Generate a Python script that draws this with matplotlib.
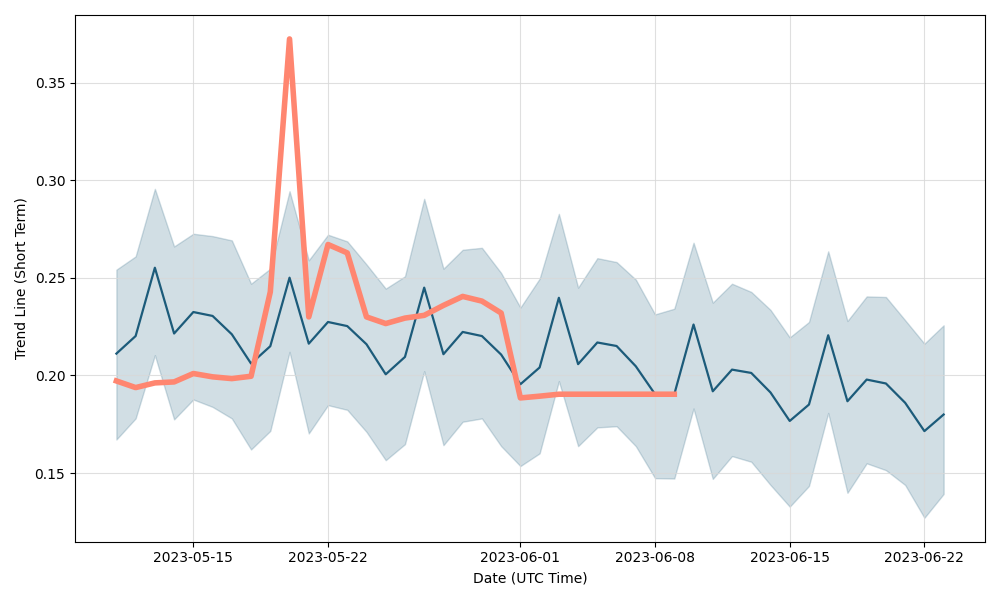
import matplotlib
matplotlib.use("Agg")
import matplotlib.pyplot as plt
import matplotlib.dates as mdates
import pandas as pd
import numpy as np

dates = pd.date_range("2023-05-11", "2023-06-23", freq="D")

trend = [0.2112, 0.2202, 0.2552, 0.2215, 0.2325, 0.2305, 0.2211, 0.2061, 0.2150, 0.2501,
         0.2163, 0.2274, 0.2253, 0.2160, 0.2006, 0.2095, 0.2450, 0.2109, 0.2223, 0.2202,
         0.2107, 0.1955, 0.2041, 0.2398, 0.2058, 0.2169, 0.2151, 0.2047, 0.1904, 0.1904,
         0.2261, 0.1919, 0.2030, 0.2013, 0.1913, 0.1767, 0.1851, 0.2206, 0.1868, 0.1979,
         0.1959, 0.1860, 0.1715, 0.1800]

upper = [0.2542, 0.2610, 0.2956, 0.2661, 0.2726, 0.2714, 0.2692, 0.2470, 0.2547, 0.2944,
         0.2590, 0.2721, 0.2687, 0.2569, 0.2445, 0.2508, 0.2905, 0.2547, 0.2644, 0.2654,
         0.2525, 0.2348, 0.2496, 0.2828, 0.2450, 0.2601, 0.2581, 0.2491, 0.2313, 0.2342,
         0.2680, 0.2373, 0.2470, 0.2428, 0.2336, 0.2195, 0.2274, 0.2636, 0.2279, 0.2405,
         0.2402, 0.2283, 0.2163, 0.2257]

lower = [0.1672, 0.1780, 0.2104, 0.1775, 0.1877, 0.1839, 0.1780, 0.1621, 0.1716, 0.2121,
         0.1703, 0.1848, 0.1824, 0.1711, 0.1566, 0.1648, 0.2022, 0.1643, 0.1763, 0.1780,
         0.1638, 0.1536, 0.1601, 0.1971, 0.1638, 0.1734, 0.1740, 0.1638, 0.1474, 0.1472,
         0.1831, 0.1470, 0.1587, 0.1558, 0.1439, 0.1328, 0.1434, 0.1808, 0.1399, 0.1550,
         0.1515, 0.1439, 0.1271, 0.1393]

actual = [0.1972, 0.1938, 0.1962, 0.1967, 0.2010, 0.1993, 0.1984, 0.1996, 0.2428, 0.3724,
          0.2300, 0.2671, 0.2628, 0.2300, 0.2266, 0.2294, 0.2308, 0.2359, 0.2405, 0.2381,
          0.2320, 0.1885, 0.1894, 0.1904, 0.1904, 0.1904, 0.1904, 0.1904, 0.1904, 0.1904]

dark = "#1c5b7a"
salmon = "#ff8670"

fig, ax = plt.subplots(figsize=(10, 6), dpi=100)
ax.fill_between(dates, lower, upper, color=dark, alpha=0.2)
ax.plot(dates, trend, color=dark, linewidth=1.6, zorder=3)
ax.plot(dates[:len(actual)], actual, color=salmon, linewidth=4, zorder=4)
ax.grid(True, color="#d8d8d8", linewidth=0.8, alpha=0.8)
ax.xaxis.set_major_formatter(mdates.DateFormatter("%Y-%m-%d"))
ax.set_xlabel("Date (UTC Time)")
ax.set_ylabel("Trend Line (Short Term)")
fig.tight_layout()
fig.savefig("out.png")
